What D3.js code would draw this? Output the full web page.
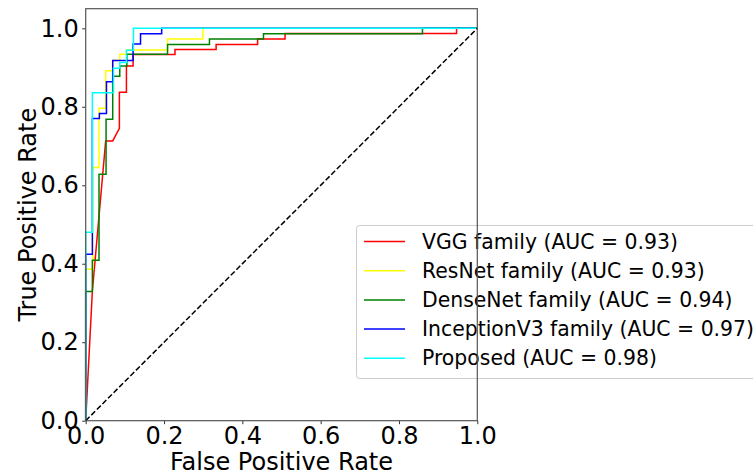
<!DOCTYPE html>
<meta charset="utf-8">
<style>
body { margin: 0; background: #fff; }
svg text { font-family: "DejaVu Sans", sans-serif; }
</style>
<svg width="753" height="476"></svg>
<script src="https://cdn.jsdelivr.net/npm/d3@7"></script>
<script>

var names = ["VGG family (AUC = 0.93)", "ResNet family (AUC = 0.93)", "DenseNet family (AUC = 0.94)",
             "InceptionV3 family (AUC = 0.97)", "Proposed (AUC = 0.98)"],
    colors = ["#ff0000", "#ffff00", "#008000", "#0000ff", "#00ffff"];

var vggFpr = [0, 0.017, 0.051, 0.069, 0.086, 0.086, 0.104, 0.104, 0.121, 0.121, 0.228, 0.228, 0.333, 0.333, 0.439, 0.439, 0.509, 0.509, 0.947, 0.947, 1],
    vggTpr = [0, 0.33, 0.713, 0.713, 0.745, 0.837, 0.837, 0.904, 0.904, 0.933, 0.933, 0.946, 0.946, 0.959, 0.959, 0.973, 0.973, 0.987, 0.987, 1, 1];

var resFpr = [0, 0, 0.018, 0.018, 0.034, 0.034, 0.051, 0.051, 0.069, 0.069, 0.087, 0.087, 0.104, 0.104, 0.209, 0.209, 0.299, 0.299, 1],
    resTpr = [0, 0.386, 0.386, 0.645, 0.645, 0.796, 0.796, 0.892, 0.892, 0.918, 0.918, 0.934, 0.934, 0.945, 0.945, 0.973, 0.973, 1, 1];

var denseFpr = [0, 0, 0.017, 0.017, 0.034, 0.034, 0.052, 0.052, 0.069, 0.069, 0.087, 0.087, 0.105, 0.105, 0.209, 0.209, 0.316, 0.316, 0.454, 0.454, 0.86, 0.86, 1],
    denseTpr = [0, 0.329, 0.329, 0.409, 0.409, 0.628, 0.628, 0.768, 0.768, 0.878, 0.878, 0.904, 0.904, 0.934, 0.934, 0.959, 0.959, 0.973, 0.973, 0.986, 0.986, 1, 1];

var incFpr = [0, 0, 0.017, 0.017, 0.035, 0.035, 0.053, 0.053, 0.069, 0.069, 0.121, 0.121, 0.14, 0.14, 0.194, 0.194, 1],
    incTpr = [0, 0.424, 0.424, 0.77, 0.77, 0.783, 0.783, 0.864, 0.864, 0.918, 0.918, 0.96, 0.96, 0.986, 0.986, 1, 1];

var propFpr = [0, 0, 0.017, 0.017, 0.071, 0.071, 0.087, 0.087, 0.104, 0.104, 0.122, 0.122, 1],
    propTpr = [0, 0.48, 0.48, 0.836, 0.836, 0.898, 0.898, 0.913, 0.913, 0.944, 0.944, 1, 1];

var ticks = [0, 0.2, 0.4, 0.6, 0.8, 1.0];

var curves = [[vggFpr, vggTpr], [resFpr, resTpr], [denseFpr, denseTpr], [incFpr, incTpr], [propFpr, propTpr]];

var svg = d3.select("svg");

var x = d3.scaleLinear().domain([0, 1]).range([85.7, 477.3]),
    y = d3.scaleLinear().domain([0, 1.05]).range([420.7, 8.7]);

var line = d3.line()
    .x(function(d) { return x(d[0]); })
    .y(function(d) { return y(d[1]); });

curves.forEach(function(c, i) {
  svg.append("path")
      .datum(d3.zip(c[0], c[1]))
      .attr("fill", "none")
      .attr("stroke", colors[i])
      .attr("stroke-width", 1.5)
      .attr("d", line);
});

svg.append("path")
    .datum([[0, 0], [1, 1]])
    .attr("fill", "none")
    .attr("stroke", "#000")
    .attr("stroke-width", 1.5)
    .attr("stroke-dasharray", "5.5,2.4")
    .attr("d", line);

// axes
var xAxis = svg.append("g")
    .attr("transform", "translate(0," + y(0) + ")")
    .call(d3.axisBottom(x).tickValues(ticks).tickFormat(d3.format(".1f")).tickSizeOuter(0).tickSize(3.5).tickPadding(2.5));

var yAxis = svg.append("g")
    .attr("transform", "translate(" + x(0) + ",0)")
    .call(d3.axisLeft(y).tickValues(ticks).tickFormat(d3.format(".1f")).tickSizeOuter(0).tickSize(3.5).tickPadding(3.5));

[xAxis, yAxis].forEach(function(a) {
  a.select(".domain").remove();
  a.selectAll("line").attr("stroke", "#333");
  a.selectAll("text").attr("font-size", 24).attr("fill", "#000").attr("font-family", "DejaVu Sans");
});

svg.append("text")
    .attr("x", (x(0) + x(1)) / 2)
    .attr("y", 470)
    .attr("text-anchor", "middle")
    .attr("font-size", 24)
    .text("False Positive Rate");

svg.append("text")
    .attr("transform", "translate(36," + (y(0) + y(1.05)) / 2 + ") rotate(-90)")
    .attr("text-anchor", "middle")
    .attr("font-size", 24)
    .text("True Positive Rate");

// legend
var legend = svg.append("g");

legend.append("rect")
    .attr("x", 356.5)
    .attr("y", 225.5)
    .attr("width", 420)
    .attr("height", 153)
    .attr("rx", 3)
    .attr("fill", "#fff")
    .attr("fill-opacity", 0.8)
    .attr("stroke", "#ccc");

names.forEach(function(n, i) {
  var cy = 241.5 + i * 29.2;
  legend.append("line")
      .attr("x1", 364).attr("x2", 405)
      .attr("y1", cy).attr("y2", cy)
      .attr("stroke", colors[i])
      .attr("stroke-width", 1.5);
  legend.append("text")
      .attr("x", 422)
      .attr("y", cy)
      .attr("dy", "0.35em")
      .attr("font-size", 20.4)
      .text(n);
});

// frame
svg.append("rect")
    .attr("x", x(0))
    .attr("y", y(1.05))
    .attr("width", x(1) - x(0))
    .attr("height", y(0) - y(1.05))
    .attr("fill", "none")
    .attr("stroke", "#555")
    .attr("stroke-width", 1.2);

</script>
